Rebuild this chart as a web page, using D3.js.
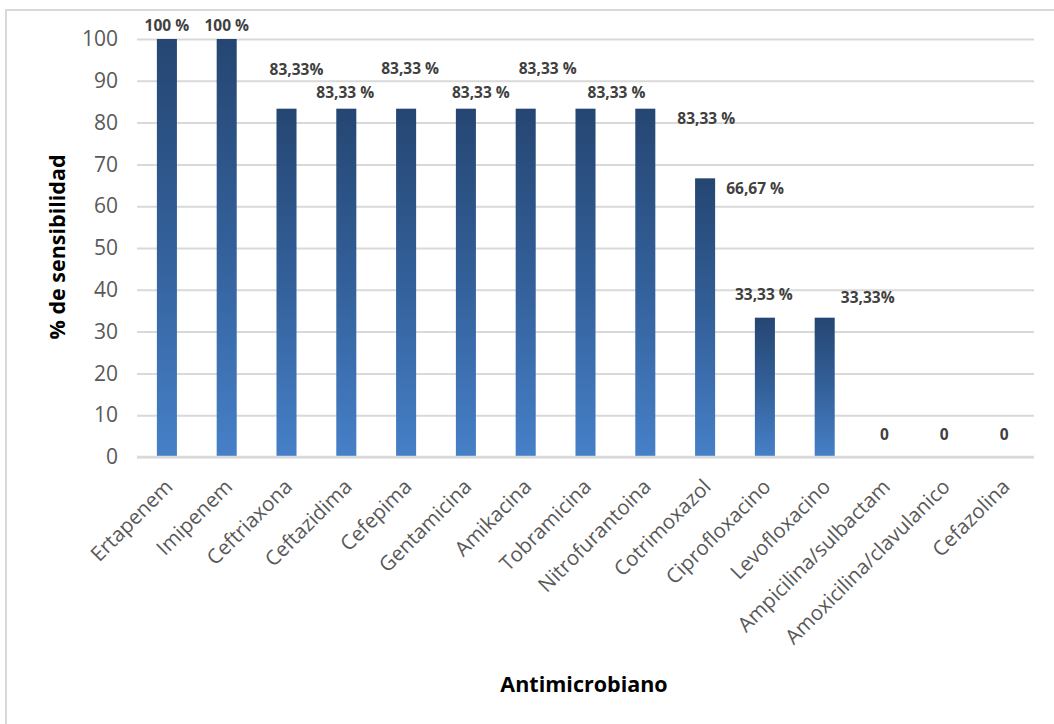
<!DOCTYPE html>
<html>
<head>
<meta charset="utf-8">
<script src="https://cdn.jsdelivr.net/npm/d3@7/dist/d3.min.js"></script>
<style>
  html, body { margin: 0; padding: 0; background: #fff; }
  svg { display: block; }
</style>
</head>
<body>
<div id="chart"></div>
<script>
// Sensitivity (%) per antimicrobial agent
const categories = [
  "Ertapenem", "Imipenem", "Ceftriaxona", "Ceftazidima", "Cefepima",
  "Gentamicina", "Amikacina", "Tobramicina", "Nitrofurantoina", "Cotrimoxazol",
  "Ciprofloxacino", "Levofloxacino", "Ampicilina/sulbactam",
  "Amoxicilina/clavulanico", "Cefazolina"
];
const values = [100, 100, 83.33, 83.33, 83.33, 83.33, 83.33, 83.33, 83.33, 66.67, 33.33, 33.33, 0, 0, 0];
const valueLabels = [
  "100 %", "100 %", "83,33%", "83,33 %", "83,33 %", "83,33 %", "83,33 %",
  "83,33 %", "83,33 %", "66,67 %", "33,33 %", "33,33%", "0", "0", "0"
];
const yTicks = [0, 10, 20, 30, 40, 50, 60, 70, 80, 90, 100];

// Hand-placed data label nudges (px) relative to the top-centre of each bar
const labelNudge = [
  [0, -8], [0, -8], [10, -34], [-1, -11], [4, -35], [15, -11], [22, -35],
  [31, -11], [61, 15], [50, 16], [-1, -18], [43, -15], [0, -17], [0, -17], [0, -17]
];

const W = 1054, H = 724;
const margin = { left: 137, right: 20, top: 39, bottom: 267 };
const FONT = "'Open Sans', 'Noto Sans', sans-serif";

const svg = d3.select("#chart").append("svg")
  .attr("width", W).attr("height", H);

// Chart-area frame (only left and top edges fall inside the canvas)
svg.append("path")
  .attr("d", `M6,${H} L6,10 L${W},10`)
  .attr("fill", "none").attr("stroke", "#d9d9d9").attr("stroke-width", 2);

const x = d3.scaleBand()
  .domain(categories)
  .range([margin.left, W - margin.right])
  .paddingInner(0.665).paddingOuter(0.3325);

const y = d3.scaleLinear().domain([0, 100]).range([457, 39]);

// Bar gradient: dark navy at the top fading to mid blue at the base
const defs = svg.append("defs");
const grad = defs.append("linearGradient")
  .attr("id", "barGrad").attr("x1", 0).attr("y1", 0).attr("x2", 0).attr("y2", 1);
grad.append("stop").attr("offset", "0%").attr("stop-color", "#254672");
grad.append("stop").attr("offset", "50%").attr("stop-color", "#33609a");
grad.append("stop").attr("offset", "100%").attr("stop-color", "#4680c8");

// Gridlines and y tick labels
const yAxisG = svg.append("g")
  .attr("transform", `translate(${margin.left},0)`)
  .call(d3.axisLeft(y).tickValues(yTicks).tickSize(-(W - margin.right - margin.left)).tickPadding(19));
yAxisG.select(".domain").remove();
yAxisG.selectAll(".tick line")
  .attr("stroke", "#d9d9d9").attr("stroke-width", 2);
yAxisG.selectAll(".tick text")
  .attr("fill", "#595959")
  .style("font-family", FONT)
  .style("font-size", "21px");

// Bars
svg.append("g").selectAll("rect")
  .data(values)
  .join("rect")
  .attr("x", (d, i) => x(categories[i]))
  .attr("width", x.bandwidth())
  .attr("y", d => y(d))
  .attr("height", d => y(0) - y(d))
  .attr("fill", "url(#barGrad)");

// Baseline
svg.append("line")
  .attr("x1", margin.left).attr("x2", W - margin.right)
  .attr("y1", y(0)).attr("y2", y(0))
  .attr("stroke", "#d9d9d9").attr("stroke-width", 2.5);

// Data labels
svg.append("g").selectAll("text")
  .data(values)
  .join("text")
  .attr("x", (d, i) => x(categories[i]) + x.bandwidth() / 2 + labelNudge[i][0])
  .attr("y", (d, i) => y(d) + labelNudge[i][1])
  .attr("text-anchor", "middle")
  .attr("fill", "#404040")
  .style("font-family", FONT)
  .style("font-weight", "bold")
  .style("font-size", "15.5px")
  .text((d, i) => valueLabels[i]);

// Category labels, rotated
svg.append("g").selectAll("text")
  .data(categories)
  .join("text")
  .attr("transform", d => `translate(${x(d) + x.bandwidth() / 2 + 7},${488}) rotate(-45)`)
  .attr("text-anchor", "end")
  .attr("fill", "#595959")
  .style("font-family", FONT)
  .style("font-size", "20.5px")
  .text(d => d);

// Axis titles
svg.append("text")
  .attr("transform", `translate(65,247) rotate(-90)`)
  .attr("text-anchor", "middle")
  .attr("fill", "#000")
  .style("font-family", FONT)
  .style("font-weight", "bold")
  .style("font-size", "21.5px")
  .text("% de sensibilidad");

svg.append("text")
  .attr("x", 584).attr("y", 692)
  .attr("text-anchor", "middle")
  .attr("fill", "#000")
  .style("font-family", FONT)
  .style("font-weight", "bold")
  .style("font-size", "21.5px")
  .text("Antimicrobiano");
</script>
</body>
</html>
